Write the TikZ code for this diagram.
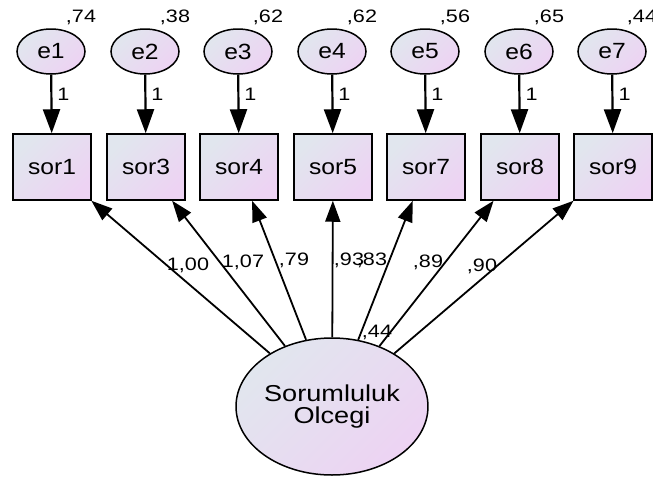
\documentclass[tikz,border=0pt]{standalone}
\usepackage{fontspec}
\setmainfont{Liberation Sans}
\newfontfamily\lblfont[FakeStretch=1.12]{Liberation Sans}
\newfontfamily\bigfont[FakeStretch=1.18]{Liberation Sans}
\newfontfamily\numfont[FakeStretch=1.2]{Liberation Sans}
\usetikzlibrary{shapes.geometric,arrows.meta}
\definecolor{gtl}{HTML}{E1E6EE}
\definecolor{gbr}{HTML}{EDD3F3}
\tikzset{
  grad/.style={top color=gtl, bottom color=gbr, shading angle=45},
  errnode/.style={ellipse, draw, line width=1.5pt, grad, minimum width=68pt, minimum height=45pt, inner sep=0pt,
    font=\lblfont\fontsize{22}{24}\selectfont},
  obsnode/.style={rectangle, draw, line width=1.5pt, grad, minimum width=78pt, minimum height=66pt, inner sep=0pt,
    font=\lblfont\fontsize{22}{24}\selectfont},
  latnode/.style={ellipse, draw, line width=1.5pt, grad, minimum width=160pt, minimum height=137pt, inner sep=0pt,
    align=center, font=\bigfont\fontsize{23}{25}\selectfont},
  numlbl/.style={inner sep=0pt, font=\numfont\fontsize{18}{20}\selectfont},
  errarrow/.style={line width=2.2pt, -{Triangle[length=24pt,width=17pt]}},
  loadarrow/.style={line width=1.8pt, -{Triangle[length=21pt,width=15pt]}},
}
\begin{document}
\begin{tikzpicture}[x=1pt,y=-1pt]
\useasboundingbox (0,0) rectangle (653,477);
\foreach \i/\x/\lab/\var in {1/51/sor1/{,74},2/145/sor3/{,38},3/238/sor4/{,62},4/332/sor5/{,62},5/425/sor7/{,56},6/519/sor8/{,65},7/612/sor9/{,44}}{
  \node[errnode] (e\i) at (\x,51.5) {e\i};
  \node[obsnode] (s\i) at (\x+1,167) {\lab};
  \draw[errarrow] (e\i) -- (s\i);
  \node[numlbl] (one\i) at (\x+12.5,94) {1};
  \node[numlbl] (v\i) at (\x+30,17.5) {\var};
}
\node[latnode] (F) at (332,406.5) {Sorumluluk\\[-3pt]Olcegi};
\foreach \i in {1,...,7}{
  \draw[loadarrow] (F) -- (s\i);
}
\node[numlbl] (l1) at (188,265) {1,00};
\node[numlbl] (l2) at (243,262) {1,07};
\node[numlbl] (l3) at (294,260) {,79};
\node[numlbl] (l4) at (349,260) {,93};
\node[numlbl] (l5) at (372,260) {,83};
\node[numlbl] (l6) at (428,262) {,89};
\node[numlbl] (l7) at (482,266) {,90};
\node[numlbl] (l8) at (377,332) {,44};
\end{tikzpicture}
\end{document}
